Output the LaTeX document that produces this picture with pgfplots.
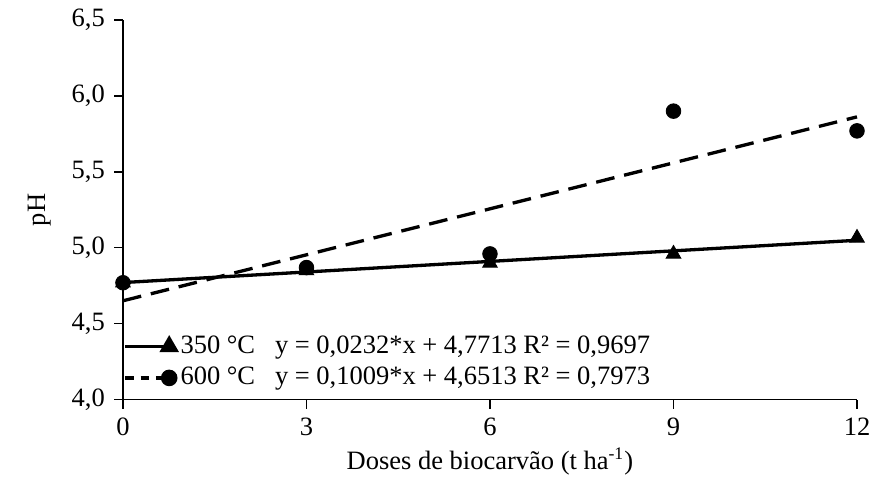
\documentclass[border=0pt]{standalone}
\usepackage{fontspec}
\setmainfont{Liberation Serif}
\usepackage{pgfplots}
\pgfplotsset{compat=1.18}
\begin{document}
\fontsize{12pt}{14.4pt}\selectfont
\begin{tikzpicture}
\begin{axis}[
  scale only axis, width=332.5pt, height=172pt,
  xmin=0, xmax=12, ymin=4, ymax=6.5,
  axis lines*=left,
  axis line style={line width=0.6pt},
  xtick={0,3,6,9,12}, ytick={4,4.5,5,5.5,6,6.5},
  tick align=outside, major tick length=4pt,
  tick style={black, line width=0.6pt},
  clip=false,
  /pgf/number format/assume math mode=true,
  yticklabel style={/pgf/number format/.cd, fixed, fixed zerofill, precision=1, use comma},
  ticklabel style={font=\fontsize{12pt}{14pt}\selectfont},
  xlabel={Doses de biocarvão (t ha\textsuperscript{-1})},
  ylabel={pH},
  xlabel style={at={(axis description cs:0.5,-0.163)}, anchor=center},
  ylabel style={at={(axis description cs:-0.114,0.5)}, anchor=center},
  legend style={draw=none, fill=none, at={(axis description cs:0,0.022)}, anchor=south west,
    inner sep=0pt, row sep=2.5pt, cells={anchor=west},
    nodes={inner xsep=2pt, inner ysep=1pt}},
  legend image code/.code={\draw[mark repeat=2, mark phase=2, #1] plot coordinates {(0pt,0pt) (20pt,0pt)};},
]
% trend lines
\addplot[black, line width=1.5pt, forget plot] coordinates {(0,4.7713) (12,5.0497)};
\addplot[black, line width=1.5pt, dash pattern=on 8.5pt off 4.5pt, forget plot] coordinates {(0,4.6513) (12,5.8621)};
% data
\addplot[only marks, mark=triangle*, mark size=3.8pt, black, forget plot] coordinates {
  (0,4.77) (3,4.85) (6,4.90) (9,4.96) (12,5.065)};
\addplot[only marks, mark=*, mark size=3.3pt, black, forget plot] coordinates {
  (0,4.77) (3,4.87) (6,4.96) (9,5.90) (12,5.77)};
\addlegendimage{black, line width=1.5pt, mark=triangle*, mark size=3.6pt, mark options={solid}}
\addlegendentry{350 °C\hspace{9pt}y = 0,0232*x + 4,7713 R² = 0,9697}
\addlegendimage{black, line width=1.5pt, dash pattern=on 4pt off 3pt, mark=*, mark size=3pt, mark options={solid}}
\addlegendentry{600 °C\hspace{9pt}y = 0,1009*x + 4,6513 R² = 0,7973}
\end{axis}
\pgfresetboundingbox
\path ([shift={(-55.7pt,-37.6pt)}]current axis.south west) rectangle ([shift={(7.25pt,9.06pt)}]current axis.north east);
\end{tikzpicture}
\end{document}
